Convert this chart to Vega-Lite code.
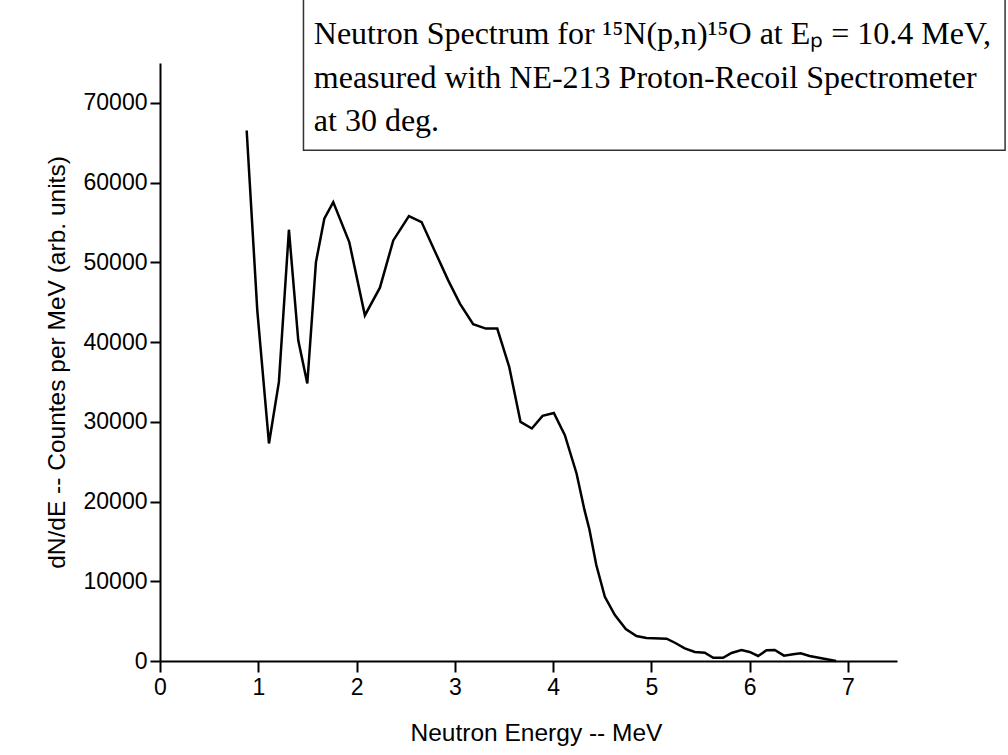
{
  "$schema": "https://vega.github.io/schema/vega-lite/v6.json",
  "width": 737,
  "height": 598,
  "autosize": "none",
  "padding": {"left": 160, "top": 63, "right": 111, "bottom": 94},
  "background": "white",
  "config": {
    "view": {"stroke": null},
    "axis": {
      "grid": false,
      "domainColor": "black",
      "domainWidth": 2,
      "tickColor": "black",
      "tickWidth": 2,
      "labelColor": "black",
      "titleColor": "black",
      "labelFont": "Liberation Sans",
      "titleFont": "Liberation Sans",
      "titleFontWeight": "normal",
      "labelFontSize": 23,
      "titleFontSize": 24.5
    }
  },
  "layer": [
    {
      "data": {
        "values": [
          {"E": 0.882, "counts": 66540},
          {"E": 0.99, "counts": 43980},
          {"E": 1.109, "counts": 27280},
          {"E": 1.21, "counts": 35000},
          {"E": 1.312, "counts": 54090},
          {"E": 1.407, "counts": 40220},
          {"E": 1.499, "counts": 34800},
          {"E": 1.587, "counts": 50030},
          {"E": 1.672, "counts": 55470},
          {"E": 1.763, "counts": 57550},
          {"E": 1.926, "counts": 52540},
          {"E": 2.085, "counts": 43350},
          {"E": 2.238, "counts": 46820},
          {"E": 2.374, "counts": 52750},
          {"E": 2.533, "counts": 55800},
          {"E": 2.662, "counts": 55050},
          {"E": 2.797, "counts": 51400},
          {"E": 2.933, "counts": 47740},
          {"E": 3.052, "counts": 44820},
          {"E": 3.187, "counts": 42230},
          {"E": 3.316, "counts": 41690},
          {"E": 3.432, "counts": 41690},
          {"E": 3.554, "counts": 36880},
          {"E": 3.669, "counts": 29990},
          {"E": 3.784, "counts": 29160},
          {"E": 3.893, "counts": 30740},
          {"E": 4.008, "counts": 31110},
          {"E": 4.12, "counts": 28320},
          {"E": 4.239, "counts": 23520},
          {"E": 4.32, "counts": 18920},
          {"E": 4.37, "counts": 16500},
          {"E": 4.44, "counts": 12030},
          {"E": 4.527, "counts": 8060},
          {"E": 4.629, "counts": 5760},
          {"E": 4.74, "counts": 4010},
          {"E": 4.849, "counts": 3130},
          {"E": 4.95, "counts": 2880},
          {"E": 5.155, "counts": 2800},
          {"E": 5.24, "counts": 2290},
          {"E": 5.34, "counts": 1590},
          {"E": 5.443, "counts": 1130},
          {"E": 5.544, "counts": 1040},
          {"E": 5.63, "counts": 410},
          {"E": 5.73, "counts": 410},
          {"E": 5.816, "counts": 1000},
          {"E": 5.917, "counts": 1380},
          {"E": 6.0, "counts": 1130},
          {"E": 6.087, "counts": 630},
          {"E": 6.172, "counts": 1340},
          {"E": 6.256, "counts": 1380},
          {"E": 6.35, "counts": 670},
          {"E": 6.443, "counts": 840},
          {"E": 6.52, "counts": 960},
          {"E": 6.61, "counts": 630},
          {"E": 6.88, "counts": 0}
        ]
      },
      "mark": {"type": "line", "color": "black", "strokeWidth": 2.5, "clip": false},
      "encoding": {
        "x": {
          "field": "E",
          "type": "quantitative",
          "scale": {"domain": [0, 7.5], "nice": false, "zero": false},
          "axis": {
            "title": "Neutron Energy -- MeV",
            "values": [0, 0.5, 1, 1.5, 2, 2.5, 3, 3.5, 4, 4.5, 5, 5.5, 6, 6.5, 7, 7.5],
            "format": "d",
            "labelExpr": "datum.value % 1 === 0 ? datum.label : ''",
            "tickSize": {"condition": {"test": "datum.value % 1 !== 0", "value": 7}, "value": 11},
            "labelPadding": 4,
            "labelFlush": false,
            "titlePadding": 22,
            "titleX": 376
          }
        },
        "y": {
          "field": "counts",
          "type": "quantitative",
          "scale": {"domain": [0, 75000], "nice": false, "zero": true},
          "axis": {
            "title": "dN/dE -- Countes per MeV (arb. units)",
            "values": [0, 5000, 10000, 15000, 20000, 25000, 30000, 35000, 40000, 45000, 50000, 55000, 60000, 65000, 70000, 75000],
            "format": "d",
            "labelExpr": "datum.value % 10000 === 0 ? datum.label : ''",
            "tickSize": {"condition": {"test": "datum.value % 10000 !== 0", "value": 7}, "value": 10},
            "labelPadding": 3,
            "labelFlush": false,
            "titlePadding": 14
          }
        }
      }
    },
    {
      "data": {"values": [{}]},
      "mark": {"type": "rect", "fill": "white", "stroke": "#333333", "strokeWidth": 1.5, "clip": false},
      "encoding": {
        "x": {"datum": 1.46},
        "x2": {"datum": 8.6},
        "y": {"datum": 64060},
        "y2": {"datum": 83000}
      }
    },
    {
      "data": {"values": [{}]},
      "mark": {
        "type": "text",
        "font": "Liberation Serif",
        "fontSize": 32,
        "align": "left",
        "baseline": "alphabetic",
        "lineHeight": 43.5,
        "color": "black",
        "clip": false
      },
      "encoding": {
        "x": {"datum": 1.565},
        "y": {"datum": 77350},
        "text": {"value": ["Neutron Spectrum for ¹⁵N(p,n)¹⁵O at Eₚ = 10.4 MeV,", "measured with NE-213 Proton-Recoil Spectrometer", "at 30 deg."]}
      }
    }
  ]
}
